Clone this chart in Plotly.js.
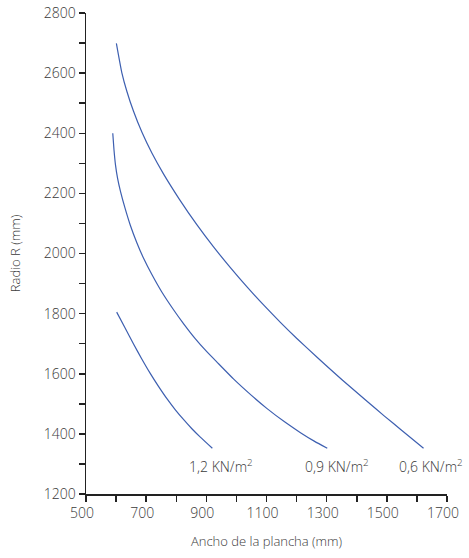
<!DOCTYPE html>
<html>
<head>
<meta charset="utf-8">
<script src="https://cdn.plot.ly/plotly-3.0.1.min.js"></script>
<style>html,body{margin:0;padding:0;background:#fff;}#chart{width:469px;height:558px;}</style>
</head>
<body>
<div id="chart"></div>
<script>
// Ancho de la plancha (mm) vs Radio R (mm)
const x06 = [601, 619, 636, 658, 686, 719, 758, 810, 869, 924, 980, 1036, 1091, 1147, 1200, 1269, 1324, 1380, 1436, 1491, 1547, 1622];
const y06 = [2699, 2602, 2539, 2473, 2403, 2334, 2264, 2181, 2095, 2022, 1953, 1888, 1828, 1770, 1718, 1654, 1604, 1555, 1507, 1460, 1414, 1352];
const x09 = [589, 593, 598, 605, 615, 630, 647, 669, 691, 719, 752, 791, 824, 863, 900, 936, 991, 1050, 1102, 1160, 1213, 1260, 1302];
const y09 = [2400, 2345, 2295, 2250, 2205, 2150, 2095, 2036, 1985, 1930, 1872, 1813, 1767, 1717, 1675, 1638, 1582, 1528, 1484, 1440, 1404, 1375, 1352];
const x12 = [602, 630, 658, 685, 713, 741, 769, 797, 824, 852, 880, 920];
const y12 = [1805, 1752, 1699, 1650, 1602, 1558, 1517, 1480, 1448, 1417, 1389, 1352];
const seriesLabels = ['0,6 KN/m<sup>2</sup>', '0,9 KN/m<sup>2</sup>', '1,2 KN/m<sup>2</sup>'];
const labelX = [1647, 1333, 950];
const labelY = [1293, 1293, 1293];

const lineStyle = {color: '#3d5fb0', width: 1.2, shape: 'spline', smoothing: 0.5};
const traces = [
  {x: x06, y: y06, mode: 'lines', line: lineStyle, name: seriesLabels[0], hoverinfo: 'skip'},
  {x: x09, y: y09, mode: 'lines', line: lineStyle, name: seriesLabels[1], hoverinfo: 'skip'},
  {x: x12, y: y12, mode: 'lines', line: lineStyle, name: seriesLabels[2], hoverinfo: 'skip'}
];

const fontFam = 'Open Sans, Lato, sans-serif';
const textColor = '#3a3a3a';
const axisCommon = {
  showgrid: false, zeroline: false, showline: true, linecolor: '#222', linewidth: 1.5,
  ticks: 'outside', ticklen: 6, tickwidth: 1.5, tickcolor: '#222',
  tickfont: {family: fontFam, size: 14, color: textColor, weight: 300},
  dtick: 200,
  minor: {dtick: 100, ticks: 'outside', ticklen: 6, tickwidth: 1.5, tickcolor: '#222'}
};

const layout = {
  width: 469, height: 558,
  margin: {l: 86, r: 22, t: 13, b: 64},
  paper_bgcolor: '#fff', plot_bgcolor: '#fff',
  showlegend: false,
  font: {family: fontFam, color: textColor},
  xaxis: Object.assign({}, axisCommon, {
    range: [500, 1700], tick0: 500, ticklabelshift: -4,
    title: {text: 'Ancho de la plancha (mm)', font: {family: fontFam, size: 13, color: textColor, weight: 300}, standoff: 15}
  }),
  yaxis: Object.assign({}, axisCommon, {
    range: [1200, 2800], tick0: 1200,
    title: {text: 'Radio R (mm)', font: {family: fontFam, size: 13, color: textColor, weight: 300}, standoff: 20}
  }),
  annotations: seriesLabels.map((t, i) => ({
    x: labelX[i], y: labelY[i], xref: 'x', yref: 'y', text: t, showarrow: false,
    xanchor: 'center', yanchor: 'middle',
    font: {family: fontFam, size: 14, color: textColor, weight: 300}
  }))
};

Plotly.newPlot('chart', traces, layout, {displayModeBar: false, staticPlot: true});
</script>
</body>
</html>
